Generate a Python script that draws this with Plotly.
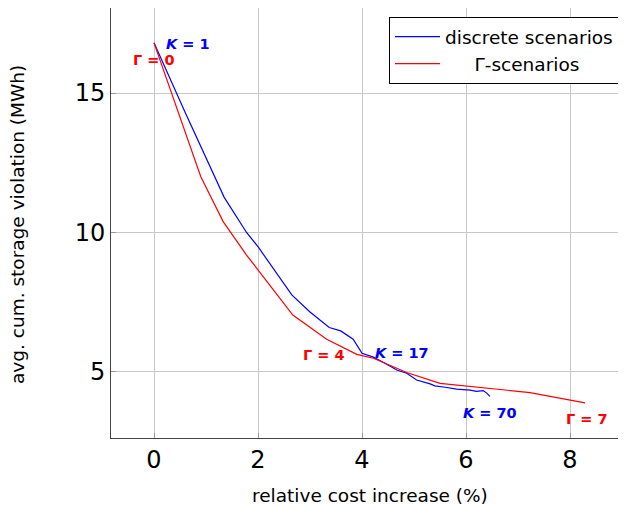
import plotly.graph_objects as go

# discrete scenarios (K = 1 ... 70)
blue_x = [0.0, 0.6, 1.35, 1.78, 2.0, 2.2, 2.65, 3.0, 3.37, 3.59, 3.83, 4.0, 4.22, 4.44, 4.67,
          4.86, 5.05, 5.31, 5.4, 5.6, 5.82, 6.08, 6.2, 6.33, 6.4, 6.46]
blue_y = [16.8, 14.3, 11.26, 10.0, 9.49, 8.95, 7.76, 7.15, 6.59, 6.47, 6.17, 5.67, 5.53, 5.31, 5.07,
          4.95, 4.71, 4.57, 4.5, 4.45, 4.38, 4.35, 4.3, 4.33, 4.24, 4.12]

# Gamma-scenarios (Gamma = 0 ... 7)
red_x = [0.0, 0.9, 1.33, 1.78, 2.67, 3.32, 3.9, 4.22, 4.86, 5.5, 7.23, 8.29]
red_y = [16.8, 12.0, 10.39, 9.19, 7.04, 6.17, 5.63, 5.49, 4.98, 4.59, 4.26, 3.89]

x_ticks = [0, 2, 4, 6, 8]
y_ticks = [5, 10, 15]

labels_text = ["<i>K</i> = 1", "Γ = 0", "Γ = 4", "<i>K</i> = 17", "<i>K</i> = 70", "Γ = 7"]
labels_x = [0.66, 0.0, 3.27, 4.76, 6.47, 8.32]
labels_y = [16.76, 16.18, 5.6, 5.68, 3.53, 3.32]
labels_c = ["blue", "red", "red", "blue", "blue", "red"]

FONT = "DejaVu Sans"

# page body has an 8px margin: figure is shifted by (8, 8)
W, H = 640, 501
L, R, T, B = 103, 0, 0, 71
PW, PH = W - L - R, H - T - B
PX_PER_UNIT = 52.0
X_MIN = -0.827
X_MAX = X_MIN + PW / PX_PER_UNIT

fig = go.Figure()
fig.add_trace(go.Scatter(x=blue_x, y=blue_y, mode="lines", name="discrete scenarios",
                         line=dict(color="blue", width=1.2)))
fig.add_trace(go.Scatter(x=red_x, y=red_y, mode="lines",
                         name="\u00a0\u00a0\u00a0\u00a0\u00a0Γ-scenarios",
                         line=dict(color="red", width=1.2)))

for t, x, y, c in zip(labels_text, labels_x, labels_y, labels_c):
    fig.add_annotation(x=x, y=y, text="<b>" + t + "</b>", showarrow=False,
                       font=dict(family=FONT, size=14.5, color=c),
                       xanchor="center", yanchor="middle")

# axis titles
fig.add_annotation(xref="paper", yref="paper", x=(370 - 111) / PW, y=-(496 - 438) / PH,
                   text="relative cost increase (%)", showarrow=False,
                   font=dict(family=FONT, size=18.5), xanchor="center", yanchor="middle")
fig.add_annotation(xref="paper", yref="paper", x=-(111 - 17) / PW, y=(438 - 225) / PH,
                   text="avg. cum. storage violation (MWh)", showarrow=False, textangle=-90,
                   font=dict(family=FONT, size=18.5), xanchor="center", yanchor="middle")

fig.update_layout(
    width=W, height=H,
    margin=dict(l=L, r=R, t=T, b=B, autoexpand=False),
    paper_bgcolor="white", plot_bgcolor="white",
    font=dict(family=FONT, color="black"),
    showlegend=True,
    legend=dict(x=(619 - 111) / PW, y=(438 - 17) / PH, xanchor="right", yanchor="top",
                bordercolor="black", borderwidth=1, bgcolor="white",
                font=dict(family=FONT, size=18.5), tracegroupgap=0, itemwidth=45),
    xaxis=dict(range=[X_MIN, X_MAX], tickvals=x_ticks, ticktext=[str(v) for v in x_ticks],
               tickfont=dict(size=24), showgrid=True, gridcolor="#c8c8c8", gridwidth=1,
               zeroline=False, showline=True, linecolor="#444", linewidth=1, mirror=True,
               ticks="inside", ticklen=5, tickcolor="#999", automargin=False),
    yaxis=dict(range=[2.63, 18.05], tickvals=y_ticks, ticktext=[str(v) for v in y_ticks],
               tickfont=dict(size=24), showgrid=True, gridcolor="#c8c8c8", gridwidth=1,
               zeroline=False, showline=True, linecolor="#444", linewidth=1,
               ticks="inside", ticklen=5, tickcolor="#999", automargin=False),
)

fig.write_html("out.html")
